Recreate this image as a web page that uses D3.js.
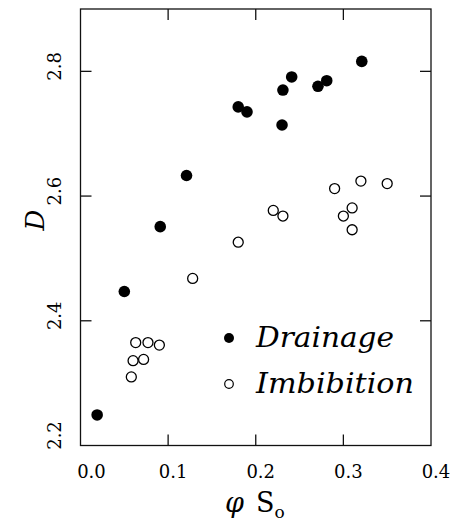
<!DOCTYPE html>
<html>
<head>
<meta charset="utf-8">
<script src="https://cdn.jsdelivr.net/npm/d3@7"></script>
<style>
  body { margin: 0; background: #fff; }
  text { font-family: "DejaVu Serif", "Liberation Serif", serif; fill: #000; }
</style>
</head>
<body>
<svg id="chart" width="453" height="522"></svg>
<script>
// drainage points (phi*So, D)
var drainX = [0.019, 0.050, 0.091, 0.121, 0.180, 0.190, 0.230, 0.231, 0.241, 0.271, 0.281, 0.321];
var drainY = [2.249, 2.447, 2.551, 2.633, 2.743, 2.735, 2.714, 2.770, 2.791, 2.776, 2.785, 2.816];
// imbibition points
var imbX = [0.058, 0.060, 0.063, 0.072, 0.077, 0.090, 0.128, 0.180, 0.220, 0.231, 0.290, 0.300, 0.310, 0.310, 0.320, 0.350];
var imbY = [2.310, 2.336, 2.365, 2.338, 2.365, 2.361, 2.468, 2.526, 2.577, 2.568, 2.612, 2.568, 2.581, 2.546, 2.624, 2.620];

var xTicks = [0.0, 0.1, 0.2, 0.3, 0.4];
var yTicks = [2.2, 2.4, 2.6, 2.8];
var legendNames = ["Drainage", "Imbibition"];

var svg = d3.select("#chart");
var pLeft = 80.5, pRight = 431, pTop = 9, pBottom = 445.5;

var x = d3.scaleLinear().domain([0, 0.4]).range([pLeft, pRight]);
var y = d3.scaleLinear().domain([2.2, 2.9]).range([pBottom, pTop]);

svg.append("rect").attr("width", 453).attr("height", 522).attr("fill", "#fff");

// frame
svg.append("rect")
	.attr("x", pLeft).attr("y", pTop)
	.attr("width", pRight - pLeft).attr("height", pBottom - pTop)
	.attr("fill", "none").attr("stroke", "#111").attr("stroke-width", 1.3);

var tk = 11;
// x ticks on bottom and top (inside)
svg.selectAll(".xt")
	.data(xTicks.slice(1, 4))
	.enter().append("g")
	.each(function(d) {
		var g = d3.select(this);
		g.append("line").attr("x1", x(d)).attr("x2", x(d)).attr("y1", pBottom).attr("y2", pBottom - tk)
			.attr("stroke", "#111").attr("stroke-width", 1.3);
		g.append("line").attr("x1", x(d)).attr("x2", x(d)).attr("y1", pTop).attr("y2", pTop + tk)
			.attr("stroke", "#111").attr("stroke-width", 1.3);
	});
// y ticks on left and right
svg.selectAll(".yt")
	.data(yTicks.slice(1))
	.enter().append("g")
	.each(function(d) {
		var g = d3.select(this);
		g.append("line").attr("x1", pLeft).attr("x2", pLeft + tk).attr("y1", y(d)).attr("y2", y(d))
			.attr("stroke", "#111").attr("stroke-width", 1.3);
		g.append("line").attr("x1", pRight).attr("x2", pRight - tk).attr("y1", y(d)).attr("y2", y(d))
			.attr("stroke", "#111").attr("stroke-width", 1.3);
	});

// x tick labels
svg.selectAll(".xl")
	.data(xTicks)
	.enter().append("text")
	.attr("x", function(d, i) { return x(d) + (i == 0 ? 11 : 5); })
	.attr("y", 478)
	.attr("text-anchor", "middle")
	.attr("font-size", 18)
	.text(function(d) { return d3.format(".1f")(d); });

// y tick labels, rotated
svg.selectAll(".yl")
	.data(yTicks)
	.enter().append("text")
	.attr("transform", function(d, i) {
		return "translate(61," + (y(d) - (i == 0 ? 10 : 5)) + ") rotate(-90)";
	})
	.attr("text-anchor", "middle")
	.attr("font-size", 18)
	.text(function(d) { return d3.format(".1f")(d); });

// axis titles
svg.append("text")
	.attr("transform", "translate(44,220) rotate(-90)")
	.attr("text-anchor", "middle")
	.attr("font-size", 26)
	.attr("font-style", "italic")
	.text("D");

var xt = svg.append("text").attr("x", 225).attr("y", 512).attr("font-size", 27);
xt.append("tspan").attr("font-style", "italic").text("\u03c6");
xt.append("tspan").attr("dx", 12).text("S");
xt.append("tspan").attr("dy", 6).attr("font-size", 17).text("o");

// data
svg.selectAll(".drain")
	.data(d3.range(drainX.length))
	.enter().append("circle")
	.attr("class", "drain")
	.attr("cx", function(i) { return x(drainX[i]); })
	.attr("cy", function(i) { return y(drainY[i]); })
	.attr("r", 5.8)
	.attr("fill", "#000");

svg.selectAll(".imb")
	.data(d3.range(imbX.length))
	.enter().append("circle")
	.attr("class", "imb")
	.attr("cx", function(i) { return x(imbX[i]); })
	.attr("cy", function(i) { return y(imbY[i]); })
	.attr("r", 5)
	.attr("fill", "#fff")
	.attr("stroke", "#000")
	.attr("stroke-width", 1.3);

// legend
var leg = svg.selectAll(".leg")
	.data(legendNames)
	.enter().append("g")
	.attr("transform", function(d, i) { return "translate(229," + (338 + i * 46) + ")"; });
leg.append("circle")
	.attr("r", function(d, i) { return i == 0 ? 5 : 4.3; })
	.attr("fill", function(d, i) { return i == 0 ? "#000" : "#fff"; })
	.attr("stroke", "#000")
	.attr("stroke-width", function(d, i) { return i == 0 ? 0 : 1.2; });
leg.append("text")
	.attr("x", 27)
	.attr("y", 9)
	.attr("font-size", 27)
	.attr("font-style", "italic")
	.attr("textLength", function(d, i) { return i == 0 ? 138 : 158; })
	.attr("lengthAdjust", "spacingAndGlyphs")
	.text(function(d) { return d; });
</script>
</body>
</html>
